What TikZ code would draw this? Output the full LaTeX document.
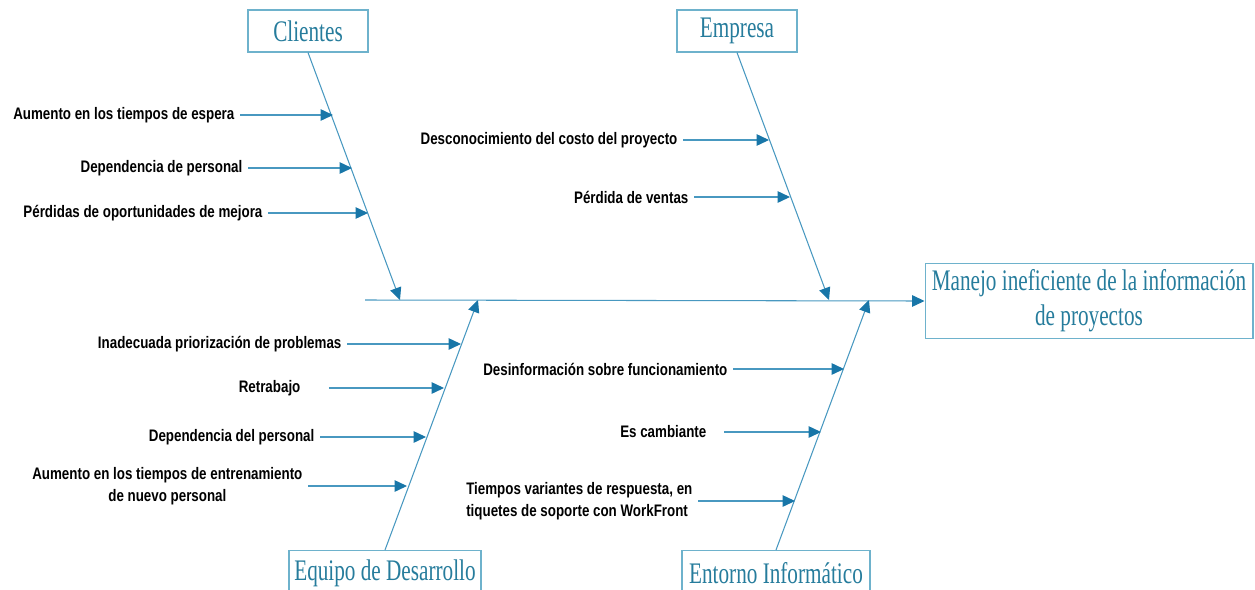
\documentclass[tikz,border=0pt]{standalone}
\usepackage{fontspec}
\setmainfont{Liberation Serif}
\newfontfamily\labelfont[FakeStretch=0.8]{Liberation Sans}
\newfontfamily\boxfont[FakeStretch=0.71]{Liberation Serif}
\usetikzlibrary{positioning,arrows.meta}

\definecolor{boneblue}{RGB}{72,152,192}
\definecolor{tipblue}{RGB}{24,118,168}
\definecolor{boxline}{RGB}{110,178,204}
\definecolor{boxtext}{RGB}{38,124,156}

\begin{document}
\begin{tikzpicture}[x=0.02cm,y=-0.02cm]
	\tikzset{category/.style = {draw=boxline, text=boxtext, line width=0.6pt, inner sep=2pt,
		font=\boxfont\fontsize{17}{20}\selectfont}}
	\tikzset{cause/.style = {anchor=east, inner sep=3pt, text=black,
		font=\labelfont\bfseries\fontsize{9.5}{12.5}\selectfont}}
	\tikzset{bone/.style = {draw=boneblue, line width=0.6pt,
		-{Triangle[length=7pt,width=6.5pt,fill=tipblue,color=tipblue]}}}

	\clip (0,0) rectangle (1255,589);

	% categories
	\node[category, minimum width=2.4cm, minimum height=0.84cm] (clientes) at (308,31) {Clientes};
	\node[category, minimum width=2.4cm, minimum height=0.84cm] (empresa) at (737,31) {Empresa};
	\node[category, minimum width=3.84cm, minimum height=0.9cm] (equipo) at (385,573) {Equipo de Desarrollo};
	\node[category, minimum width=3.76cm, minimum height=0.9cm] (entorno) at (776,573) {Entorno Informático};
	\node[category, minimum width=6.56cm, minimum height=1.5cm, align=center] (efecto) at (1089,301)
		{Manejo ineficiente de la información\\de proyectos};

	% spine
	\coordinate (spine) at (365,300);
	\draw[bone] (spine) -- (efecto.west);

	% bones
	\coordinate (cl) at (400,300);
	\coordinate (em) at (829,300);
	\coordinate (eq) at (478,300);
	\coordinate (en) at (869,300);
	\draw[bone] (clientes.south) -- (cl);
	\draw[bone] (empresa.south) -- (em);
	\draw[bone] (equipo.north) -- (eq);
	\draw[bone] (entorno.north) -- (en);

	% clientes
	\node[cause] (c1) at (240,115) {Aumento en los tiempos de espera};
	\node[cause] (c2) at (248,168) {Dependencia de personal};
	\node[cause] (c3) at (268,213) {Pérdidas de oportunidades de mejora};
	\coordinate (c1t) at (333,115);
	\coordinate (c2t) at (352,168);
	\coordinate (c3t) at (368,213);
	\draw[bone] (c1) -- (c1t);
	\draw[bone] (c2) -- (c2t);
	\draw[bone] (c3) -- (c3t);

	% empresa
	\node[cause] (m1) at (683,140) {Desconocimiento del costo del proyecto};
	\node[cause] (m2) at (694,197) {Pérdida de ventas};
	\coordinate (m1t) at (769,140);
	\coordinate (m2t) at (790,197);
	\draw[bone] (m1) -- (m1t);
	\draw[bone] (m2) -- (m2t);

	% equipo de desarrollo
	\node[cause] (q1) at (347,344) {Inadecuada priorización de problemas};
	\node[cause] (q2) at (306,388) {Retrabajo};
	\node[cause] (q3) at (320,437) {Dependencia del personal};
	\node[cause, align=center] (q4) at (308,486) {Aumento en los tiempos de entrenamiento\\de nuevo personal};
	\coordinate (q1t) at (461,344);
	\coordinate (q2t) at (444,388);
	\coordinate (q3t) at (426,437);
	\coordinate (q4t) at (407,486);
	\draw[bone] (q1) -- (q1t);
	\draw[bone] ([xshift=13pt]q2.east) -- (q2t);
	\draw[bone] (q3) -- (q3t);
	\draw[bone] (q4) -- (q4t);

	% entorno informatico
	\node[cause] (e1) at (733,369) {Desinformación sobre funcionamiento};
	\node[cause] (e2) at (712,432) {Es cambiante};
	\node[cause, align=left] (e3) at (698,501) {Tiempos variantes de respuesta, en\\tiquetes de soporte con WorkFront};
	\coordinate (e1t) at (844,369);
	\coordinate (e2t) at (821,432);
	\coordinate (e3t) at (795,501);
	\draw[bone] (e1) -- (e1t);
	\draw[bone] ([xshift=7pt]e2.east) -- (e2t);
	\draw[bone] (e3) -- (e3t);
\end{tikzpicture}
\end{document}
